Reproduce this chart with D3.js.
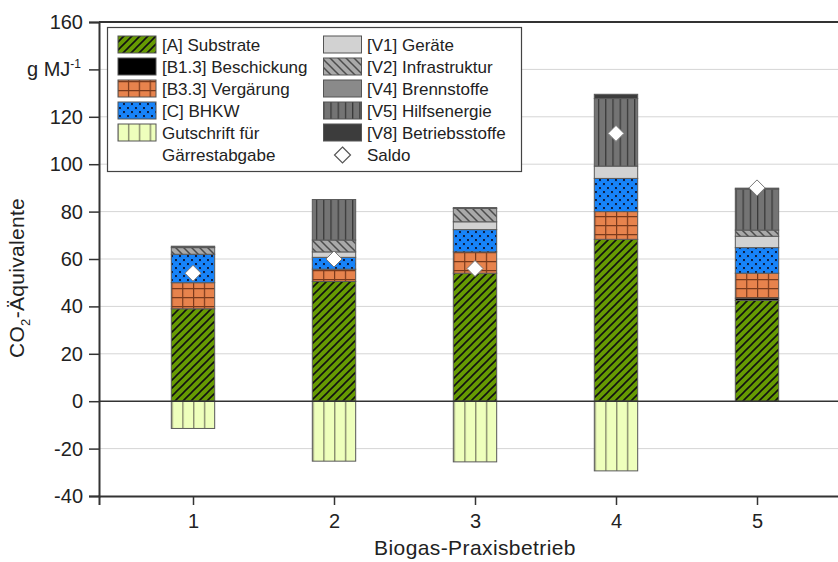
<!DOCTYPE html>
<html>
<head>
<meta charset="utf-8">
<script src="https://cdn.jsdelivr.net/npm/d3@7"></script>
<style>
  html, body { margin: 0; padding: 0; background: #fff; }
  svg { display: block; font-family: Arial, "Liberation Sans", sans-serif; }
</style>
</head>
<body>
<svg id="chart" width="838" height="562"></svg>
<script>
// Biogas plants (x axis)
const plants = [1, 2, 3, 4, 5];

// Contributions per plant, g CO2-eq per MJ
const substrate     = [39.0, 50.5, 54.0, 68.3, 42.5];   // [A] Substrate
const beschickung   = [0.0, 0.0, 0.0, 0.0, 1.0];        // [B1.3] Beschickung
const vergaerung    = [11.0, 5.2, 9.0, 11.7, 10.5];     // [B3.3] Vergärung
const bhkw          = [12.0, 5.0, 9.4, 14.0, 10.8];     // [C] BHKW
const geraete       = [0.0, 2.3, 3.3, 5.2, 4.8];        // [V1] Geräte
const infrastruktur = [2.8, 5.0, 5.6, 0.0, 2.6];        // [V2] Infrastruktur
const brennstoffe   = [0.0, 0.0, 0.0, 0.0, 0.0];        // [V4] Brennstoffe
const hilfsenergie  = [0.0, 17.1, 0.0, 28.5, 17.3];     // [V5] Hilfsenergie
const betriebsstoffe= [0.6, 0.0, 0.4, 1.8, 0.4];        // [V8] Betriebsstoffe
const gutschrift    = [-11.5, -25.3, -25.6, -29.4, 0.0]; // Gutschrift für Gärrestabgabe
const saldo         = [54.0, 60.0, 56.0, 113.0, 90.0];  // Saldo

// Axis ticks
const yTicks = [-40, -20, 0, 20, 40, 60, 80, 100, 120, 140, 160];
const xTicks = [1, 2, 3, 4, 5];

// Legend texts (two columns)
const legendLeft  = ["[A] Substrate", "[B1.3] Beschickung", "[B3.3] Vergärung", "[C] BHKW", "Gutschrift für"];
const legendRight = ["[V1] Geräte", "[V2] Infrastruktur", "[V4] Brennstoffe", "[V5] Hilfsenergie", "[V8] Betriebsstoffe"];

const seriesKeys = ["substrate", "beschickung", "vergaerung", "bhkw", "geraete",
                    "infrastruktur", "brennstoffe", "hilfsenergie", "betriebsstoffe", "gutschrift"];
const seriesArrays = { substrate, beschickung, vergaerung, bhkw, geraete,
                       infrastruktur, brennstoffe, hilfsenergie, betriebsstoffe, gutschrift };

const rows = plants.map((p, i) => {
  const r = { plant: p };
  seriesKeys.forEach(k => r[k] = seriesArrays[k][i]);
  return r;
});

const svg = d3.select("#chart");
const W = 838, H = 562;
const plot = { left: 99, right: 851, top: 22, bottom: 496 };

const x = d3.scaleLinear().domain([1/3, 17/3]).range([plot.left, plot.right]);
const y = d3.scaleLinear().domain([-40, 160]).range([plot.bottom, plot.top]);

const col = (x(2) - x(1)) / 13;
const bw = col * 4;
const barX0 = x(1) - bw / 2;

// ---------- fill patterns ----------
const defs = svg.append("defs");
function pattern(id, w, h, bg, draw, xOff = 0) {
  const p = defs.append("pattern").attr("id", id)
    .attr("patternUnits", "userSpaceOnUse")
    .attr("x", xOff).attr("y", 0)
    .attr("width", w).attr("height", h);
  p.append("rect").attr("width", w).attr("height", h).attr("fill", bg);
  draw(p, w, h);
}
pattern("p-substrate", 8, 8, "#669a02", (p) => {
  p.append("path").attr("d", "M-2,2 L2,-2 M0,8 L8,0 M6,10 L10,6")
    .attr("stroke", "#111").attr("stroke-width", 1.6);
});
pattern("p-vergaerung", col, 9, "#e7834d", (p, w, h) => {
  p.append("path").attr("d", `M0.6,0 V${h} M0,0.6 H${w}`)
    .attr("stroke", "#7a3a1c").attr("stroke-width", 1.2);
}, barX0);
pattern("p-bhkw", 8, 8, "#0d1c3e", (p) => {
  [[4, 4], [0, 0], [8, 0], [0, 8], [8, 8]].forEach(([cx, cy]) => {
    p.append("circle").attr("cx", cx).attr("cy", cy).attr("r", 3.1).attr("fill", "#1784fa");
  });
});
pattern("p-gutschrift", col, 10, "#eeffbc", (p, w, h) => {
  p.append("path").attr("d", `M0.7,0 V${h}`)
    .attr("stroke", "#8b9070").attr("stroke-width", 1.5);
}, barX0);
pattern("p-infrastruktur", 8, 8, "#a9a9a9", (p) => {
  p.append("path").attr("d", "M-2,6 L2,10 M0,0 L8,8 M6,-2 L10,2")
    .attr("stroke", "#4c4c4c").attr("stroke-width", 1.5);
});
pattern("p-hilfsenergie", col * 2 / 3, 10, "#747474", (p, w, h) => {
  p.append("path").attr("d", `M0.6,0 V${h}`)
    .attr("stroke", "#383838").attr("stroke-width", 1.3);
}, barX0);

const fills = {
  substrate: "url(#p-substrate)",
  beschickung: "#000000",
  vergaerung: "url(#p-vergaerung)",
  bhkw: "url(#p-bhkw)",
  geraete: "#d2d2d2",
  infrastruktur: "url(#p-infrastruktur)",
  brennstoffe: "#8a8a8a",
  hilfsenergie: "url(#p-hilfsenergie)",
  betriebsstoffe: "#3c3c3c",
  gutschrift: "url(#p-gutschrift)"
};

// ---------- gridlines ----------
svg.append("g").selectAll("line").data(yTicks.filter(v => v !== 0 && v !== 160 && v !== -40))
  .join("line")
  .attr("x1", plot.left).attr("x2", W)
  .attr("y1", d => y(d)).attr("y2", d => y(d))
  .attr("stroke", "#d5d5d5").attr("stroke-width", 1);

// ---------- stacked bars ----------
const stack = d3.stack().keys(seriesKeys).offset(d3.stackOffsetDiverging);
const layers = stack(rows);

svg.append("g").selectAll("g").data(layers).join("g")
  .attr("fill", d => fills[d.key])
  .selectAll("rect")
  .data(d => d.filter(s => Math.abs(s[1] - s[0]) > 0))
  .join("rect")
  .attr("x", d => x(d.data.plant) - bw / 2)
  .attr("width", bw)
  .attr("y", d => y(Math.max(d[0], d[1])))
  .attr("height", d => Math.abs(y(d[0]) - y(d[1])))
  .attr("stroke", "#5a5a5a").attr("stroke-width", 1);

// zero line
svg.append("line")
  .attr("x1", plot.left).attr("x2", W)
  .attr("y1", y(0)).attr("y2", y(0))
  .attr("stroke", "#333").attr("stroke-width", 1.6);

// ---------- Saldo markers ----------
const dia = 8;
svg.append("g").selectAll("path").data(saldo).join("path")
  .attr("transform", (d, i) => `translate(${x(plants[i])},${y(d)})`)
  .attr("d", `M0,${-dia} L${dia},0 L0,${dia} L${-dia},0 Z`)
  .attr("fill", "#fff").attr("stroke", "#777").attr("stroke-width", 1);

// ---------- axes ----------
const yAxis = d3.axisLeft(y).tickValues(yTicks).tickSize(10).tickPadding(6)
  .tickFormat(d => d === 140 ? "" : d);
const gy = svg.append("g").attr("transform", `translate(${plot.left},0)`).call(yAxis);
gy.select(".domain").attr("stroke", "#333").attr("stroke-width", 2);
gy.selectAll(".tick line").attr("stroke", "#333").attr("stroke-width", 1.5);
gy.selectAll(".tick text").attr("font-size", 20).attr("fill", "#222")
  .attr("font-family", "Arial, 'Liberation Sans', sans-serif");

const xAxis = d3.axisBottom(x).tickValues(xTicks).tickSize(9).tickPadding(9)
  .tickFormat(d3.format("d"));
const gx = svg.append("g").attr("transform", `translate(0,${plot.bottom})`).call(xAxis);
gx.select(".domain").attr("stroke", "#333").attr("stroke-width", 2);
gx.selectAll(".tick line").attr("stroke", "#333").attr("stroke-width", 1.5);
gx.selectAll(".tick text").attr("font-size", 20).attr("fill", "#222")
  .attr("font-family", "Arial, 'Liberation Sans', sans-serif");

// top frame line
svg.append("line")
  .attr("x1", plot.left).attr("x2", W)
  .attr("y1", plot.top).attr("y2", plot.top)
  .attr("stroke", "#333").attr("stroke-width", 2);

// unit label in place of the 140 tick
const unit = svg.append("text")
  .attr("x", 81).attr("y", y(140) + 7)
  .attr("text-anchor", "end").attr("font-size", 20).attr("fill", "#222");
unit.append("tspan").text("g MJ");
unit.append("tspan").attr("font-size", 12).attr("dy", -8).text("-1");

// axis titles
svg.append("text")
  .attr("x", x(3)).attr("y", 555)
  .attr("text-anchor", "middle").attr("font-size", 21).attr("letter-spacing", 0.4)
  .attr("fill", "#222").text("Biogas-Praxisbetrieb");

const yt = svg.append("text")
  .attr("transform", `translate(24,${278}) rotate(-90)`)
  .attr("text-anchor", "middle").attr("font-size", 21).attr("letter-spacing", 0.3)
  .attr("fill", "#222");
yt.append("tspan").text("CO");
yt.append("tspan").attr("font-size", 13).attr("dy", 6).text("2");
yt.append("tspan").attr("dy", -6).text("-Äquivalente");

// ---------- legend ----------
const lg = svg.append("g");
lg.append("rect").attr("x", 107.5).attr("y", 27.5).attr("width", 414).attr("height", 144)
  .attr("fill", "#fff").attr("stroke", "#444").attr("stroke-width", 1.2);

const rowH = 22, base0 = 51;
const leftKeys = ["substrate", "beschickung", "vergaerung", "bhkw", "gutschrift"];
const rightKeys = ["geraete", "infrastruktur", "brennstoffe", "hilfsenergie", "betriebsstoffe"];

function legendColumn(keys, labels, sx, tx) {
  keys.forEach((k, i) => {
    const by = base0 + i * rowH;
    lg.append("rect").attr("x", sx).attr("y", by - 15).attr("width", 38).attr("height", 17)
      .attr("fill", fills[k]).attr("stroke", "#555").attr("stroke-width", 1);
    lg.append("text").attr("x", tx).attr("y", by).attr("font-size", 17).attr("fill", "#222")
      .text(labels[i]);
  });
}
legendColumn(leftKeys, legendLeft, 118, 162);
legendColumn(rightKeys, legendRight, 323.5, 367);

const lastY = base0 + 5 * rowH;
lg.append("text").attr("x", 162).attr("y", lastY).attr("font-size", 17).attr("fill", "#222")
  .text("Gärrestabgabe");
lg.append("path")
  .attr("transform", `translate(342.5,${lastY - 6})`)
  .attr("d", `M0,${-dia} L${dia},0 L0,${dia} L${-dia},0 Z`)
  .attr("fill", "#fff").attr("stroke", "#555").attr("stroke-width", 1.2);
lg.append("text").attr("x", 367).attr("y", lastY).attr("font-size", 17).attr("fill", "#222")
  .text("Saldo");
</script>
</body>
</html>
